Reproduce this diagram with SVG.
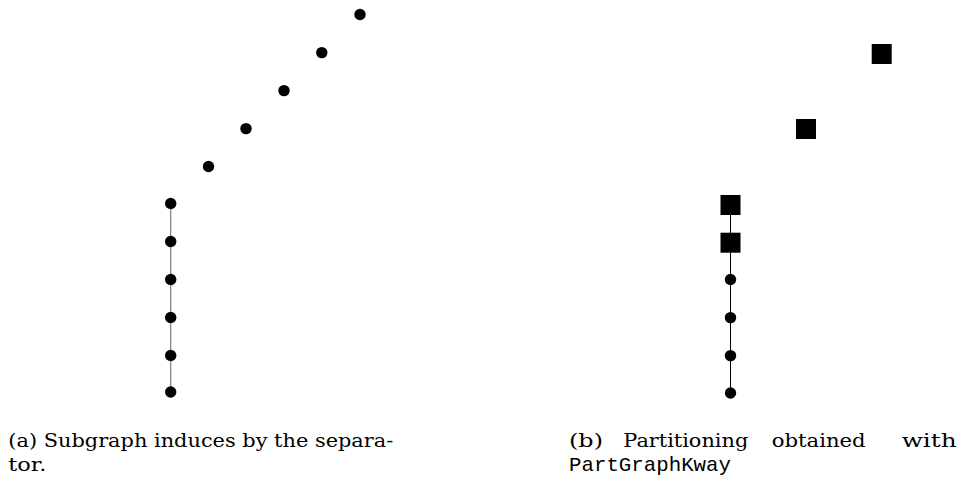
<svg xmlns="http://www.w3.org/2000/svg" width="960" height="482" viewBox="0 0 960 482">
<style>
.n{fill:#000}
.sq{fill:#000}
.e1{stroke:#7a7a7a;stroke-width:1.2;fill:none}
.e2{stroke:#000;stroke-width:1;fill:none}
.cap{font-family:"DejaVu Serif","Liberation Serif",serif;font-size:19px;fill:#000}
.mono{font-family:"Liberation Mono","DejaVu Sans Mono",monospace;font-size:20.6px;fill:#000}
</style>
<rect width="960" height="482" fill="#fff"/>
<g id="connectors">
<line class="e1" x1="170.7" y1="203.5" x2="170.7" y2="392"/>
<line class="e2" x1="730.5" y1="205" x2="730.5" y2="393"/>
</g>
<g id="graph-a">
<g id="a1"><circle class="n" cx="360" cy="14.5" r="5.7"/></g>
<g id="a2"><circle class="n" cx="321.8" cy="52.6" r="5.7"/></g>
<g id="a3"><circle class="n" cx="284" cy="90.6" r="5.7"/></g>
<g id="a4"><circle class="n" cx="246" cy="128.6" r="5.7"/></g>
<g id="a5"><circle class="n" cx="208.5" cy="166.5" r="5.7"/></g>
<g id="a6"><circle class="n" cx="170.7" cy="203.5" r="5.7"/></g>
<g id="a7"><circle class="n" cx="170.7" cy="241.5" r="5.7"/></g>
<g id="a8"><circle class="n" cx="170.7" cy="279.5" r="5.7"/></g>
<g id="a9"><circle class="n" cx="170.7" cy="317.5" r="5.7"/></g>
<g id="a10"><circle class="n" cx="170.7" cy="355.5" r="5.7"/></g>
<g id="a11"><circle class="n" cx="170.7" cy="392" r="5.7"/></g>
</g>
<g id="graph-b">
<g id="b1"><rect class="sq" x="871.7" y="44" width="20" height="20"/></g>
<g id="b2"><rect class="sq" x="796" y="119" width="20" height="20"/></g>
<g id="b3"><rect class="sq" x="720.5" y="195" width="20" height="20"/></g>
<g id="b4"><rect class="sq" x="720.5" y="232.7" width="20" height="20"/></g>
<g id="b5"><circle class="n" cx="730.5" cy="279.5" r="5.7"/></g>
<g id="b6"><circle class="n" cx="730.5" cy="317.6" r="5.7"/></g>
<g id="b7"><circle class="n" cx="730.5" cy="355.6" r="5.7"/></g>
<g id="b8"><circle class="n" cx="730.5" cy="393" r="5.7"/></g>
</g>
<g id="captions">
<text class="cap" x="8.3" y="446.5" textLength="385" lengthAdjust="spacingAndGlyphs">(a) Subgraph induces by the separa-</text>
<text class="cap" x="8.3" y="470.8" textLength="38" lengthAdjust="spacingAndGlyphs">tor.</text>
<text class="cap" x="569" y="446.5" textLength="34" lengthAdjust="spacingAndGlyphs">(b)</text>
<text class="cap" x="623.3" y="446.5" textLength="125" lengthAdjust="spacingAndGlyphs">Partitioning</text>
<text class="cap" x="771.7" y="446.5" textLength="94" lengthAdjust="spacingAndGlyphs">obtained</text>
<text class="cap" x="901.7" y="446.5" textLength="55" lengthAdjust="spacingAndGlyphs">with</text>
<text class="mono" x="569" y="470.8" textLength="162" lengthAdjust="spacingAndGlyphs">PartGraphKway</text>
</g>
</svg>
